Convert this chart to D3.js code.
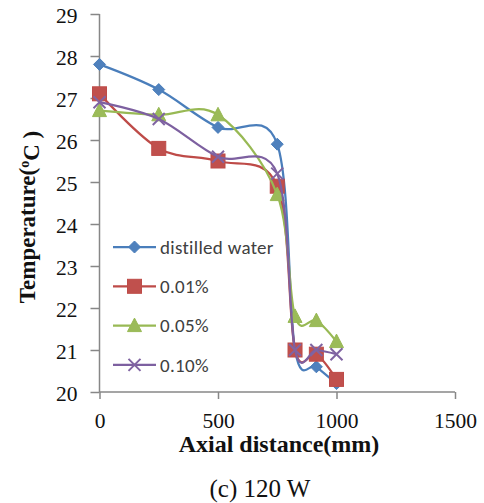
<!DOCTYPE html>
<html>
<head>
<meta charset="utf-8">
<script src="https://cdn.jsdelivr.net/npm/d3@7"></script>
<style>
  html, body { margin: 0; padding: 0; background: #fff; }
  svg { display: block; }
</style>
</head>
<body>
<svg id="chart" width="484" height="503"></svg>
<script>
// Axial positions along the pipe (mm)
const axialDistance = [0, 250, 500, 750, 825, 915, 1000];

// Wall temperatures (°C) at each axial position
const distilledWater = [27.8, 27.2, 26.3, 25.9, 21.0, 20.6, 20.2];
const conc001 = [27.1, 25.8, 25.5, 24.9, 21.0, 20.9, 20.3];
const conc005 = [26.7, 26.6, 26.6, 24.7, 21.8, 21.7, 21.2];
const conc010 = [26.9, 26.5, 25.6, 25.2, 21.0, 21.0, 20.9];

const seriesNames = ["distilled water", "0.01%", "0.05%", "0.10%"];
const seriesValues = [distilledWater, conc001, conc005, conc010];
const seriesColors = ["#4A7EBB", "#BE4B48", "#98B954", "#7D60A0"];
const markerFills = ["#4F81BD", "#C0504D", "#9BBB59", "#8064A2"];
const markerTypes = ["diamond", "square", "triangle", "cross"];

const xTicks = [0, 500, 1000, 1500];
const yTicks = [20, 21, 22, 23, 24, 25, 26, 27, 28, 29];

const svg = d3.select("#chart");
const plot = { left: 99.5, right: 455, top: 14, bottom: 392 };

const x = d3.scaleLinear().domain([0, 1500]).range([plot.left, plot.right]);
const y = d3.scaleLinear().domain([20, 29]).range([plot.bottom, plot.top]);

const axisColor = "#878787";
const serif = "'Liberation Serif', 'Times New Roman', serif";

// Axes
const yAxis = svg.append("g")
  .attr("transform", `translate(${plot.left},0)`)
  .call(d3.axisLeft(y).tickValues(yTicks).tickFormat(d3.format("d")).tickSize(9).tickPadding(13));
const xAxis = svg.append("g")
  .attr("transform", `translate(0,${plot.bottom})`)
  .call(d3.axisBottom(x).tickValues(xTicks).tickFormat(d3.format("d")).tickSize(7).tickPadding(14));

[xAxis, yAxis].forEach(g => {
  g.select(".domain").attr("stroke", axisColor).attr("stroke-width", 1.5);
  g.selectAll(".tick line").attr("stroke", axisColor).attr("stroke-width", 1.5);
  g.selectAll(".tick text")
    .attr("fill", "#111")
    .style("font-family", serif)
    .style("font-size", "21.5px");
});
xAxis.select(".domain").attr("d", `M${plot.left},0H${plot.right}`);
yAxis.select(".domain").attr("d", `M0,${plot.top}V${plot.bottom}`);
yAxis.selectAll(".tick text").attr("dy", "0.4em");

// Series lines (smoothed)
const line = d3.line()
  .x((d, i) => x(axialDistance[i]))
  .y(d => y(d))
  .curve(d3.curveCardinal.tension(0));

function drawMarker(g, type, cx, cy, fill, stroke) {
  if (type === "diamond") {
    g.append("path")
      .attr("d", `M${cx},${cy - 6}L${cx + 6},${cy}L${cx},${cy + 6}L${cx - 6},${cy}Z`)
      .attr("fill", fill).attr("stroke", stroke).attr("stroke-width", 1);
  } else if (type === "square") {
    g.append("rect")
      .attr("x", cx - 7).attr("y", cy - 7).attr("width", 14).attr("height", 14)
      .attr("fill", fill).attr("stroke", stroke).attr("stroke-width", 1);
  } else if (type === "triangle") {
    g.append("path")
      .attr("d", `M${cx},${cy - 7.5}L${cx + 7},${cy + 6}L${cx - 7},${cy + 6}Z`)
      .attr("fill", fill).attr("stroke", stroke).attr("stroke-width", 1);
  } else {
    g.append("path")
      .attr("d", `M${cx - 6},${cy - 6}L${cx + 6},${cy + 6}M${cx - 6},${cy + 6}L${cx + 6},${cy - 6}`)
      .attr("fill", "none").attr("stroke", fill).attr("stroke-width", 2);
  }
}

seriesValues.forEach((vals, s) => {
  const g = svg.append("g");
  g.append("path")
    .datum(vals)
    .attr("d", line)
    .attr("fill", "none")
    .attr("stroke", seriesColors[s])
    .attr("stroke-width", 2.25)
    .attr("stroke-linejoin", "round");
  vals.forEach((v, i) => {
    drawMarker(g, markerTypes[s], x(axialDistance[i]), y(v), markerFills[s], seriesColors[s]);
  });
});

// Legend
const legend = svg.append("g").attr("transform", "translate(113,247)");
seriesNames.forEach((name, s) => {
  const row = legend.append("g").attr("transform", `translate(0,${s * 39.3})`);
  row.append("line").attr("x1", 0).attr("x2", 43).attr("y1", 0).attr("y2", 0)
    .attr("stroke", seriesColors[s]).attr("stroke-width", 2.25);
  drawMarker(row, markerTypes[s], 21.5, 0, markerFills[s], seriesColors[s]);
  row.append("text")
    .attr("x", 47).attr("y", 0).attr("dy", "0.35em")
    .attr("fill", "#404040")
    .style("font-family", "Carlito, Lato, 'Open Sans', sans-serif")
    .style("font-size", "19px")
    .style("letter-spacing", "0.3px")
    .text(name);
});

// Axis titles
svg.append("text")
  .attr("x", 279).attr("y", 452)
  .attr("text-anchor", "middle")
  .style("font-family", serif).style("font-size", "24px").style("font-weight", "bold")
  .attr("fill", "#111")
  .text("Axial distance(mm)");

const yTitle = svg.append("text")
  .attr("transform", "translate(35,217) rotate(-90)")
  .attr("text-anchor", "middle")
  .style("font-family", serif).style("font-size", "23px").style("font-weight", "bold")
  .attr("fill", "#111");
yTitle.append("tspan").text("Temperature(");
yTitle.append("tspan").attr("dy", "-0.45em").style("font-size", "14px").text("o");
yTitle.append("tspan").attr("dy", "0.45em").text("C )");

// Caption
svg.append("text")
  .attr("x", 260).attr("y", 497)
  .attr("text-anchor", "middle")
  .style("font-family", serif).style("font-size", "25px")
  .attr("fill", "#111")
  .text("(c) 120 W");
</script>
</body>
</html>
